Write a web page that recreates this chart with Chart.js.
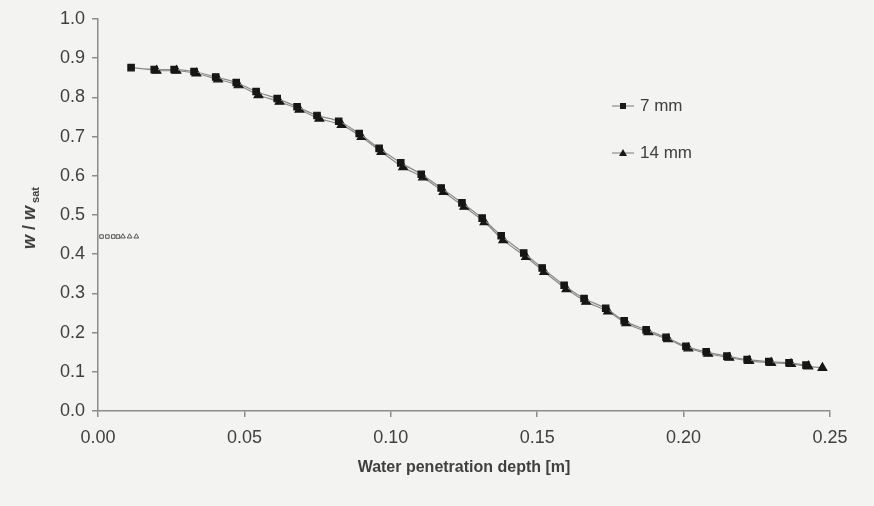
<!DOCTYPE html>
<html>
<head>
<meta charset="utf-8">
<title>Water penetration depth</title>
<script src="https://cdn.jsdelivr.net/npm/chart.js@4.4.1/dist/chart.umd.min.js"></script>
<style>
    html, body { margin: 0; padding: 0; background: #f3f3f2; }
    #wrap { width: 874px; height: 506px; position: relative; }
</style>
</head>
<body>
<div id="wrap"><canvas id="chart" width="874" height="506"></canvas></div>
<script>
// 7 mm series
const depth7 = [0.0113, 0.0192, 0.0260, 0.0328, 0.0402, 0.0472, 0.0540, 0.0612, 0.0680, 0.0748,
    0.0822, 0.0892, 0.0960, 0.1034, 0.1104, 0.1172, 0.1243, 0.1312, 0.1377, 0.1454,
    0.1517, 0.1592, 0.1660, 0.1734, 0.1797, 0.1872, 0.1940, 0.2008, 0.2077, 0.2148,
    0.2217, 0.2291, 0.2360, 0.2418];
const ratio7 = [0.876, 0.871, 0.871, 0.866, 0.852, 0.838, 0.815, 0.797, 0.776, 0.754,
    0.739, 0.708, 0.670, 0.633, 0.604, 0.569, 0.531, 0.492, 0.447, 0.403,
    0.365, 0.321, 0.287, 0.262, 0.230, 0.207, 0.188, 0.165, 0.151, 0.140,
    0.131, 0.126, 0.123, 0.117];

// 14 mm series
const depth14 = [0.0200, 0.0268, 0.0336, 0.0410, 0.0480, 0.0548, 0.0620, 0.0688, 0.0756, 0.0832,
    0.0900, 0.0968, 0.1042, 0.1110, 0.1180, 0.1251, 0.1320, 0.1384, 0.1462, 0.1524,
    0.1600, 0.1667, 0.1742, 0.1804, 0.1880, 0.1947, 0.2016, 0.2084, 0.2156, 0.2224,
    0.2299, 0.2367, 0.2426, 0.2474];
const ratio14 = [0.868, 0.868, 0.861, 0.846, 0.831, 0.806, 0.789, 0.769, 0.746, 0.730,
    0.699, 0.661, 0.622, 0.596, 0.559, 0.521, 0.482, 0.436, 0.393, 0.355,
    0.311, 0.279, 0.254, 0.224, 0.201, 0.183, 0.160, 0.146, 0.136, 0.128,
    0.123, 0.120, 0.114, 0.110];

// small open markers near the axis
const depthOpen7 = [0.0012, 0.0032, 0.0052, 0.0068];
const ratioOpen7 = [0.445, 0.445, 0.445, 0.445];
const depthOpen14 = [0.0085, 0.0108, 0.0131];
const ratioOpen14 = [0.445, 0.445, 0.445];

const xTicks = [0, 0.05, 0.10, 0.15, 0.20, 0.25];
const yTicks = [0, 0.1, 0.2, 0.3, 0.4, 0.5, 0.6, 0.7, 0.8, 0.9, 1.0];

const FONT = '"Liberation Sans", Arial, sans-serif';
const AXIS = '#8c8c8c';
const TEXT = '#404040';

function pts(xs, ys) {
    return xs.map((x, i) => ({ x: x, y: ys[i] }));
}

// axis titles and legend drawn by hand so they sit where the original has them
const decorations = {
    id: 'decorations',
    afterDraw(chart) {
        const ctx = chart.ctx;
        const area = chart.chartArea;
        ctx.save();
        ctx.fillStyle = TEXT;

        // x title
        ctx.font = 'bold 16px ' + FONT;
        ctx.textAlign = 'center';
        ctx.textBaseline = 'middle';
        ctx.fillText('Water penetration depth [m]', (area.left + area.right) / 2, 468);

        // y title  w / w_sat
        ctx.save();
        ctx.translate(30, 218);
        ctx.rotate(-Math.PI / 2);
        ctx.textAlign = 'left';
        ctx.textBaseline = 'middle';
        const big = 'bold italic 18px ' + FONT;
        const small = 'bold 11px ' + FONT;
        ctx.font = big;
        const w1 = ctx.measureText('w').width;
        ctx.font = 'bold 18px ' + FONT;
        const sl = ctx.measureText(' / ').width;
        ctx.font = big;
        const w2 = ctx.measureText('w').width;
        ctx.font = small;
        const ws = ctx.measureText(' sat').width;
        let x0 = -(w1 + sl + w2 + ws) / 2;
        ctx.font = big;
        ctx.fillText('w', x0, 0); x0 += w1;
        ctx.font = 'bold 18px ' + FONT;
        ctx.fillText(' / ', x0, 0); x0 += sl;
        ctx.font = big;
        ctx.fillText('w', x0, 0); x0 += w2;
        ctx.font = small;
        ctx.fillText(' sat', x0, 6);
        ctx.restore();

        // legend
        const items = [
            { label: '7 mm', style: 'rect', y: 106 },
            { label: '14 mm', style: 'triangle', y: 153 }
        ];
        ctx.font = '17px ' + FONT;
        ctx.textAlign = 'left';
        ctx.textBaseline = 'middle';
        items.forEach(it => {
            ctx.strokeStyle = '#7a7a7a';
            ctx.lineWidth = 1;
            ctx.beginPath();
            ctx.moveTo(612, it.y);
            ctx.lineTo(634, it.y);
            ctx.stroke();
            ctx.fillStyle = '#1a1a1a';
            ctx.beginPath();
            if (it.style === 'rect') {
                ctx.rect(620, it.y - 3, 6, 6);
            } else {
                ctx.moveTo(623, it.y - 4);
                ctx.lineTo(627, it.y + 3);
                ctx.lineTo(619, it.y + 3);
                ctx.closePath();
            }
            ctx.fill();
            ctx.fillStyle = TEXT;
            ctx.fillText(it.label, 640, it.y);
        });
        ctx.restore();
    }
};

const ctx = document.getElementById('chart').getContext('2d');
new Chart(ctx, {
    type: 'scatter',
    data: {
        datasets: [
            {
                label: '7 mm',
                data: pts(depth7, ratio7),
                showLine: true,
                borderColor: '#8a8a8a',
                borderWidth: 1.2,
                cubicInterpolationMode: 'monotone',
                pointStyle: 'rect',
                pointRadius: 4.5,
                pointBackgroundColor: '#161616',
                pointBorderColor: '#161616'
            },
            {
                label: '14 mm',
                data: pts(depth14, ratio14),
                showLine: true,
                borderColor: '#8a8a8a',
                borderWidth: 1.2,
                cubicInterpolationMode: 'monotone',
                pointStyle: 'triangle',
                pointRadius: 5,
                pointBackgroundColor: '#161616',
                pointBorderColor: '#161616'
            },
            {
                label: 'open7',
                data: pts(depthOpen7, ratioOpen7),
                showLine: false,
                pointStyle: 'rect',
                pointRadius: 2.5,
                pointBackgroundColor: 'rgba(0,0,0,0)',
                pointBorderColor: '#555',
                pointBorderWidth: 1
            },
            {
                label: 'open14',
                data: pts(depthOpen14, ratioOpen14),
                showLine: false,
                pointStyle: 'triangle',
                pointRadius: 2.8,
                pointBackgroundColor: 'rgba(0,0,0,0)',
                pointBorderColor: '#555',
                pointBorderWidth: 1
            }
        ]
    },
    options: {
        responsive: false,
        animation: false,
        layout: { padding: { top: 19, right: 44, left: 0, bottom: 0 } },
        plugins: {
            legend: { display: false },
            tooltip: { enabled: false }
        },
        scales: {
            x: {
                type: 'linear',
                min: 0,
                max: 0.25,
                afterBuildTicks: s => { s.ticks = xTicks.map(v => ({ value: v })); },
                afterFit: s => { s.height = 95; },
                border: { color: AXIS, width: 1.5 },
                grid: { drawOnChartArea: false, tickLength: 6, color: AXIS, lineWidth: 1.5 },
                ticks: {
                    padding: 10,
                    color: TEXT,
                    font: { family: FONT, size: 18 },
                    callback: v => v.toFixed(2)
                }
            },
            y: {
                type: 'linear',
                min: 0,
                max: 1,
                afterBuildTicks: s => { s.ticks = yTicks.map(v => ({ value: v })); },
                afterFit: s => { s.width = 98; },
                border: { color: AXIS, width: 1.5 },
                grid: { drawOnChartArea: false, tickLength: 6, color: AXIS, lineWidth: 1.5 },
                ticks: {
                    padding: 7,
                    color: TEXT,
                    font: { family: FONT, size: 18 },
                    callback: v => v.toFixed(1)
                }
            }
        }
    },
    plugins: [decorations]
});
</script>
</body>
</html>
